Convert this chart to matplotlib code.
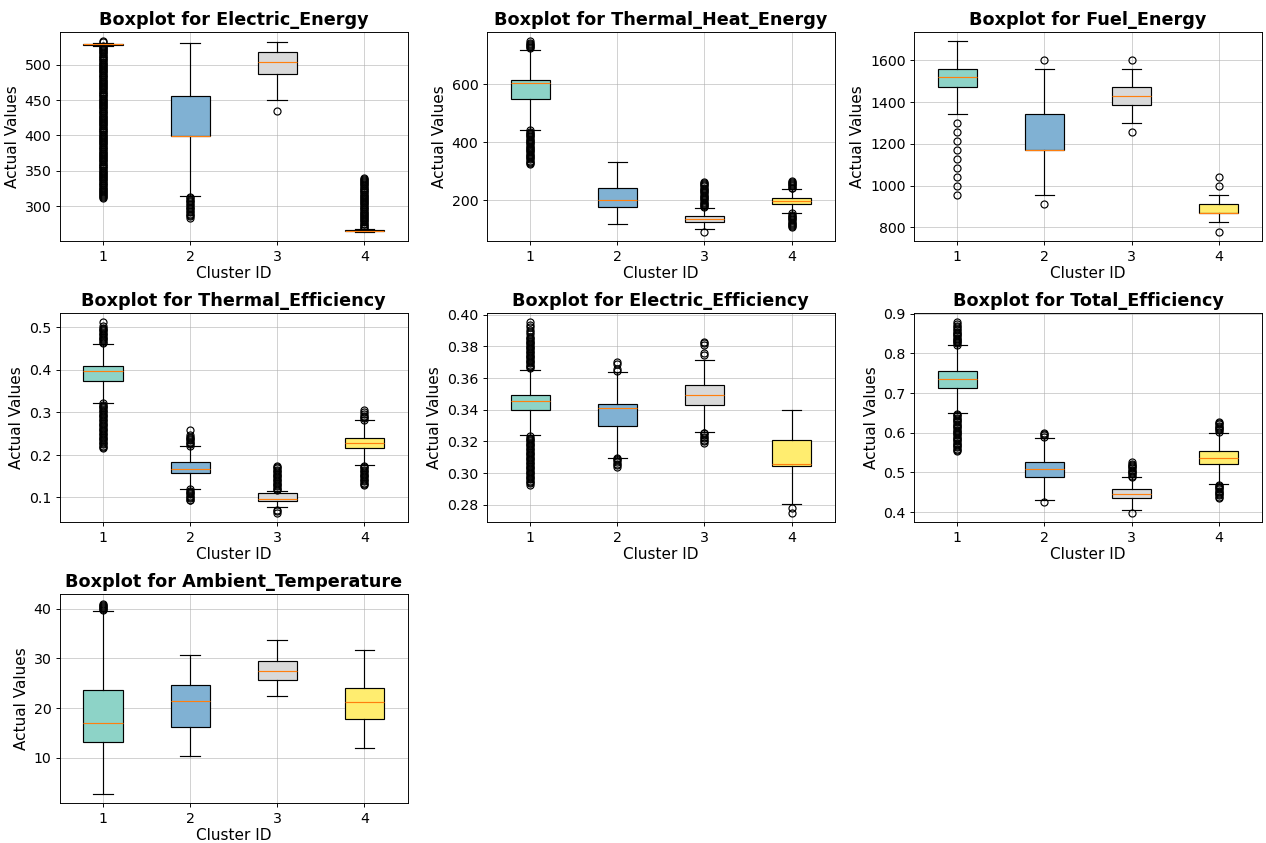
import numpy as np
import matplotlib
matplotlib.use("Agg")
import matplotlib.pyplot as plt

clusters = [1, 2, 3, 4]
features = ["Electric_Energy", "Thermal_Heat_Energy", "Fuel_Energy",
            "Thermal_Efficiency", "Electric_Efficiency", "Total_Efficiency",
            "Ambient_Temperature"]

# box stats per cluster (q1, median, q3, lower whisker, upper whisker) + outliers
# Electric_Energy
ee_q1 = [528, 399.5, 486.5, 264.5]
ee_med = [529, 399.5, 504, 265]
ee_q3 = [530, 455.5, 518.5, 266]
ee_lo = [527, 314, 449.5, 263.5]
ee_hi = [531, 530.5, 531.5, 267]
ee_fliers = [
    [311, 312, 314, 315, 317, 318, 320, 321, 323, 324, 326, 327, 329, 330, 332, 333,
     335, 336, 338, 339, 341, 342, 344, 345, 347, 348, 350, 351, 353, 354, 356, 357,
     359, 360, 362, 363, 365, 366, 368, 369, 371, 372, 374, 375, 377, 378, 380, 381,
     383, 384, 386, 387, 389, 390, 392, 393, 395, 396, 398, 399, 401, 402, 404, 405,
     407, 408, 410, 411, 413, 414, 416, 417, 419, 420, 422, 423, 425, 426, 428, 429,
     431, 432, 434, 435, 437, 438, 440, 441, 443, 444, 446, 447, 449, 450, 452, 453,
     455, 456, 458, 459, 461, 462, 464, 465, 467, 468, 470, 471, 473, 474, 476, 477,
     479, 480, 482, 483, 485, 486, 488, 489, 491, 492, 494, 495, 497, 498, 500, 501,
     503, 504, 506, 507, 509, 510, 512, 513, 515, 516, 518, 519, 521, 522, 524, 525,
     527, 532, 533],
    [283, 285, 287, 289, 291, 293, 295, 297, 299, 301, 303, 305, 307, 309, 311, 312],
    [434],
    [268, 269, 271, 272, 274, 275, 277, 278, 280, 281, 283, 284, 286, 287, 289, 290,
     292, 293, 295, 296, 298, 299, 301, 302, 304, 305, 307, 308, 310, 311, 313, 314,
     316, 317, 319, 320, 322, 323, 325, 326, 328, 329, 331, 332, 334, 335, 337, 338, 339],
]

# Thermal_Heat_Energy
th_q1 = [548, 176, 125, 189]
th_med = [604.5, 202, 134, 198]
th_q3 = [616, 244, 145.5, 209]
th_lo = [444, 119, 100, 157]
th_hi = [720, 333, 173, 239]
th_fliers = [
    [724, 727, 731, 735, 740, 744, 748,
     441, 437, 433, 429, 425, 421, 417, 413, 409, 405, 401, 397, 393, 389, 385, 381,
     377, 373, 369, 365, 361, 357, 353, 349, 345, 341, 337, 333, 329, 326],
    [],
    [176, 180, 184, 188, 192, 196, 200, 204, 208, 212, 216, 220, 224, 228, 232, 236,
     240, 244, 248, 252, 256, 260, 263, 92],
    [241, 244, 248, 252, 256, 260, 264, 267,
     155, 151, 147, 143, 139, 135, 131, 127, 123, 119, 115, 111, 108],
]

# Fuel_Energy
fe_q1 = [1473, 1169, 1386, 867]
fe_med = [1518, 1169, 1430, 867]
fe_q3 = [1560, 1342, 1473, 911]
fe_lo = [1343, 955, 1299, 824]
fe_hi = [1690, 1560, 1560, 955]
fe_fliers = [
    [1299, 1256, 1213, 1170, 1128, 1085, 1042, 998, 955],
    [1603, 912],
    [1603, 1256],
    [1041, 998, 779],
]

# Thermal_Efficiency
te_q1 = [0.374, 0.158, 0.0907, 0.2152]
te_med = [0.3963, 0.1672, 0.0969, 0.2276]
te_q3 = [0.4087, 0.1827, 0.1093, 0.2407]
te_lo = [0.3228, 0.121, 0.0783, 0.1765]
te_hi = [0.4613, 0.2198, 0.1155, 0.281]
te_fliers = [
    [0.463, 0.466, 0.469, 0.472, 0.475, 0.478, 0.481, 0.484, 0.487, 0.490, 0.493, 0.496,
     0.499, 0.503, 0.511,
     0.321, 0.318, 0.315, 0.312, 0.309, 0.306, 0.303, 0.300, 0.297, 0.294, 0.291, 0.288,
     0.285, 0.282, 0.279, 0.276, 0.273, 0.270, 0.267, 0.264, 0.261, 0.258, 0.255, 0.252,
     0.249, 0.246, 0.243, 0.240, 0.237, 0.234, 0.231, 0.228, 0.225, 0.222, 0.219, 0.216],
    [0.222, 0.225, 0.228, 0.231, 0.234, 0.237, 0.240, 0.243, 0.246, 0.258,
     0.119, 0.116, 0.113, 0.110, 0.107, 0.104, 0.101, 0.098, 0.095, 0.093],
    [0.117, 0.120, 0.123, 0.126, 0.129, 0.132, 0.135, 0.138, 0.141, 0.144, 0.147, 0.150,
     0.153, 0.156, 0.159, 0.162, 0.165, 0.168, 0.171, 0.173, 0.070, 0.067, 0.064],
    [0.283, 0.286, 0.289, 0.292, 0.296, 0.300, 0.305,
     0.174, 0.171, 0.168, 0.165, 0.162, 0.159, 0.156, 0.153, 0.150, 0.147, 0.144, 0.141,
     0.138, 0.135, 0.132, 0.129],
]

# Electric_Efficiency
el_q1 = [0.3395, 0.3299, 0.3432, 0.3048]
el_med = [0.3457, 0.3411, 0.3491, 0.3059]
el_q3 = [0.3495, 0.3434, 0.3553, 0.3209]
el_lo = [0.324, 0.3098, 0.3259, 0.2808]
el_hi = [0.3649, 0.3637, 0.3716, 0.3399]
el_fliers = [
    [0.3660, 0.3668, 0.3676, 0.3684, 0.3692, 0.3700, 0.3708, 0.3716, 0.3724, 0.3732,
     0.3740, 0.3748, 0.3756, 0.3764, 0.3772, 0.3780, 0.3788, 0.3796, 0.3804, 0.3812,
     0.3820, 0.3828, 0.3836, 0.3844, 0.3852, 0.3860, 0.3875, 0.3890, 0.3905, 0.3920,
     0.3935, 0.3950,
     0.3232, 0.3224, 0.3216, 0.3208, 0.3200, 0.3192, 0.3184, 0.3176, 0.3168, 0.3160,
     0.3152, 0.3144, 0.3136, 0.3128, 0.3120, 0.3112, 0.3104, 0.3096, 0.3088, 0.3080,
     0.3072, 0.3064, 0.3056, 0.3048, 0.3040, 0.3032, 0.3024, 0.3016, 0.3008, 0.3000,
     0.2992, 0.2984, 0.2976, 0.2968, 0.2960, 0.2952, 0.2944, 0.2936, 0.2928],
    [0.3645, 0.3655, 0.369, 0.370, 0.3095, 0.309, 0.308, 0.307, 0.306, 0.305, 0.304],
    [0.3745, 0.3755, 0.381, 0.382, 0.3825, 0.3255, 0.325, 0.324, 0.323, 0.322, 0.321,
     0.320, 0.319],
    [0.278, 0.275],
]

# Total_Efficiency
to_q1 = [0.7132, 0.4871, 0.4352, 0.5198]
to_med = [0.7358, 0.5072, 0.4444, 0.5365]
to_q3 = [0.756, 0.5273, 0.4569, 0.5533]
to_lo = [0.6487, 0.4302, 0.405, 0.4712]
to_hi = [0.8204, 0.5859, 0.4871, 0.6002]
to_fliers = [
    [0.822, 0.825, 0.828, 0.831, 0.834, 0.837, 0.840, 0.843, 0.846, 0.849, 0.852, 0.855,
     0.858, 0.861, 0.866, 0.870, 0.874, 0.878,
     0.647, 0.644, 0.641, 0.638, 0.635, 0.632, 0.629, 0.626, 0.623, 0.620, 0.617, 0.614,
     0.611, 0.608, 0.605, 0.602, 0.599, 0.596, 0.593, 0.590, 0.587, 0.584, 0.581, 0.578,
     0.575, 0.572, 0.569, 0.566, 0.563, 0.560, 0.557, 0.554],
    [0.589, 0.593, 0.597, 0.600, 0.424],
    [0.489, 0.492, 0.495, 0.498, 0.501, 0.504, 0.507, 0.510, 0.513, 0.516, 0.519, 0.522,
     0.525, 0.398],
    [0.603, 0.606, 0.609, 0.612, 0.615, 0.618, 0.621, 0.624, 0.627,
     0.469, 0.466, 0.463, 0.460, 0.457, 0.454, 0.451, 0.448, 0.445, 0.442, 0.439, 0.436],
]

# Ambient_Temperature
at_q1 = [13.1, 16.1, 25.7, 17.8]
at_med = [17.0, 21.35, 27.4, 21.1]
at_q3 = [23.7, 24.55, 29.5, 23.95]
at_lo = [2.7, 10.3, 22.3, 12.0]
at_hi = [39.6, 30.7, 33.7, 31.7]
at_fliers = [[39.8, 40.0, 40.2, 40.4, 40.6, 40.8, 41.0], [], [], []]

panels = [
    (ee_q1, ee_med, ee_q3, ee_lo, ee_hi, ee_fliers),
    (th_q1, th_med, th_q3, th_lo, th_hi, th_fliers),
    (fe_q1, fe_med, fe_q3, fe_lo, fe_hi, fe_fliers),
    (te_q1, te_med, te_q3, te_lo, te_hi, te_fliers),
    (el_q1, el_med, el_q3, el_lo, el_hi, el_fliers),
    (to_q1, to_med, to_q3, to_lo, to_hi, to_fliers),
    (at_q1, at_med, at_q3, at_lo, at_hi, at_fliers),
]

colors = plt.cm.Set3(np.linspace(0, 1, len(clusters)))

fig, axes = plt.subplots(3, 3, figsize=(15, 9.99))
fig.subplots_adjust(left=0.047, right=0.997, top=0.962, bottom=0.047,
                    wspace=0.226, hspace=0.343)
axes = axes.flatten()

for i, (feat, (q1, med, q3, lo, hi, fl)) in enumerate(zip(features, panels)):
    ax = axes[i]
    stats = []
    for j in range(len(clusters)):
        stats.append({"q1": q1[j], "med": med[j], "q3": q3[j],
                      "whislo": lo[j], "whishi": hi[j], "fliers": fl[j]})
    bp = ax.bxp(stats, positions=clusters, patch_artist=True)
    for patch, c in zip(bp["boxes"], colors):
        patch.set_facecolor(c)
    ax.set_title(f"Boxplot for {feat}", fontsize=15, fontweight="bold")
    ax.set_xlabel("Cluster ID", fontsize=13, labelpad=2)
    ax.set_ylabel("Actual Values", fontsize=13)
    ax.set_xticks(clusters)
    ax.set_xticklabels([str(c) for c in clusters])
    ax.tick_params(labelsize=12)
    ax.grid(True, alpha=0.6)

# unused slots
for k in range(len(features), len(axes)):
    fig.delaxes(axes[k])

fig.savefig("out.png", dpi=84.4)
